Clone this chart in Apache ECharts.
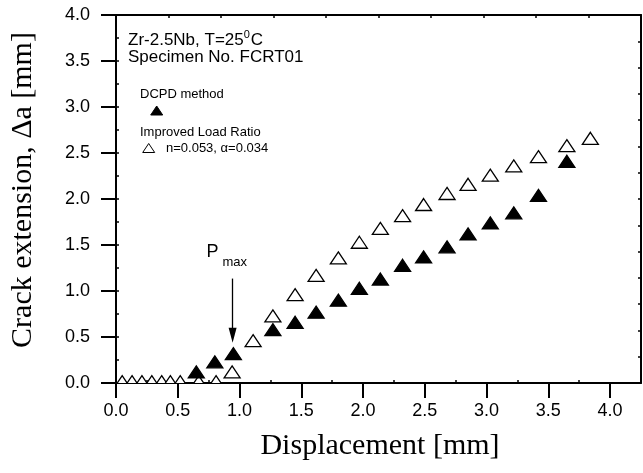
<!DOCTYPE html>
<html>
<head>
<meta charset="utf-8">
<script src="https://cdn.jsdelivr.net/npm/echarts@6/dist/echarts.min.js"></script>
<style>html,body{margin:0;padding:0;background:#fff}#c{width:643px;height:473px}</style>
</head>
<body>
<div id="c"></div>
<script>
// ---- data ----
const xTickLabels = [0, 0.5, 1.0, 1.5, 2.0, 2.5, 3.0, 3.5, 4.0];
const xMinorTicks = [0.25, 0.75, 1.25, 1.75, 2.25, 2.75, 3.25, 3.75, 4.25];
const yTickLabels = [0, 0.5, 1.0, 1.5, 2.0, 2.5, 3.0, 3.5, 4.0];

const dcpdX = [0.65, 0.80, 0.95, 1.27, 1.45, 1.62, 1.80, 1.97, 2.14, 2.32, 2.49, 2.68, 2.85, 3.03, 3.22, 3.42, 3.65];
const dcpdY = [0.12, 0.23, 0.32, 0.58, 0.66, 0.77, 0.90, 1.03, 1.13, 1.28, 1.37, 1.48, 1.62, 1.74, 1.85, 2.04, 2.41];

const ratioX = [0.05, 0.13, 0.21, 0.29, 0.37, 0.44, 0.52, 0.67, 0.81, 0.94, 1.11, 1.27, 1.45, 1.62, 1.80, 1.97, 2.14, 2.32, 2.49, 2.68, 2.85, 3.03, 3.22, 3.42, 3.65, 3.84];
const ratioY = [0.015, 0.015, 0.015, 0.015, 0.015, 0.015, 0.015, 0.015, 0.015, 0.12, 0.46, 0.73, 0.96, 1.17, 1.36, 1.53, 1.68, 1.82, 1.94, 2.06, 2.16, 2.26, 2.36, 2.46, 2.58, 2.66];

const pmaxArrow = [[0.944, 1.135], [0.944, 0.52]];

// ---- chart ----
const SANS = 'Liberation Sans, Arial, sans-serif';
const SERIF = 'Liberation Serif, Times New Roman, serif';
const chart = echarts.init(document.getElementById('c'), null, {renderer: 'canvas'});

function triRenderer(fill) {
  return function (params, api) {
    const p = api.coord([api.value(0), api.value(1)]);
    const w = 8, h = 6;
    return {
      type: 'polygon',
      shape: {points: [[p[0], p[1] - h], [p[0] + w, p[1] + h], [p[0] - w, p[1] + h]]},
      style: {fill: fill, stroke: '#000', lineWidth: 1.3}
    };
  };
}

const gridRect = {left: 116, right: 2, top: 15, bottom: 90};
const lineStyle = {color: '#000', width: 2};

const option = {
  backgroundColor: '#fff',
  animation: false,
  grid: [
    Object.assign({outerBoundsMode: 'none', containLabel: false}, gridRect),
    Object.assign({outerBoundsMode: 'none', containLabel: false}, gridRect)
  ],
  xAxis: [
    {
      type: 'value', gridIndex: 0, position: 'bottom', min: 0, max: 4.25,
      axisLine: {show: true, onZero: false, lineStyle: lineStyle},
      axisTick: {show: true, inside: false, length: 15, customValues: xTickLabels, lineStyle: {color: '#000', width: 2}},
      axisLabel: {show: true, customValues: xTickLabels, margin: 19, color: '#000', fontSize: 18, fontFamily: SANS,
        formatter: v => v.toFixed(1)},
      splitLine: {show: false}
    },
    {
      type: 'value', gridIndex: 0, position: 'top', min: 0, max: 10, interval: 1,
      axisLine: {show: true, onZero: false, lineStyle: lineStyle},
      axisTick: {show: true, inside: true, length: 3, lineStyle: {color: '#000', width: 1.5}},
      axisLabel: {show: false}, splitLine: {show: false}
    },
    {
      type: 'value', gridIndex: 1, position: 'bottom', min: 0, max: 4.25,
      axisLine: {show: false, onZero: false},
      axisTick: {show: true, inside: true, length: 3, customValues: xMinorTicks, lineStyle: {color: '#000', width: 1.5}},
      axisLabel: {show: false}, splitLine: {show: false}
    }
  ],
  yAxis: [
    {
      type: 'value', gridIndex: 0, position: 'left', min: 0, max: 4, interval: 0.5,
      axisLine: {show: true, onZero: false, lineStyle: lineStyle},
      axisTick: {show: true, inside: false, length: 15, lineStyle: {color: '#000', width: 2}},
      axisLabel: {show: true, margin: 26, color: '#000', fontSize: 18, fontFamily: SANS,
        formatter: v => v.toFixed(1)},
      splitLine: {show: false}
    },
    {
      type: 'value', gridIndex: 0, position: 'right', min: 0, max: 14, interval: 1,
      axisLine: {show: true, onZero: false, lineStyle: lineStyle},
      axisTick: {show: true, inside: true, length: 3, lineStyle: {color: '#000', width: 1.5}},
      axisLabel: {show: false}, splitLine: {show: false}
    },
    {
      type: 'value', gridIndex: 1, position: 'left', min: 0, max: 4, interval: 0.25,
      axisLine: {show: false, onZero: false},
      axisTick: {show: true, inside: true, length: 3, lineStyle: {color: '#000', width: 1.5}},
      axisLabel: {show: false}, splitLine: {show: false}
    }
  ],
  series: [
    {
      name: 'DCPD method', type: 'custom', xAxisIndex: 0, yAxisIndex: 0, clip: true,
      renderItem: triRenderer('#000'),
      data: dcpdX.map((x, i) => [x, dcpdY[i]]), z: 5
    },
    {
      name: 'Improved Load Ratio', type: 'custom', xAxisIndex: 0, yAxisIndex: 0, clip: true,
      renderItem: triRenderer('#fff'),
      data: ratioX.map((x, i) => [x, ratioY[i]]), z: 4
    },
    {
      name: 'arrow', type: 'scatter', xAxisIndex: 0, yAxisIndex: 0, data: [], silent: true,
      markLine: {
        silent: true, animation: false,
        symbol: ['none', 'triangle'], symbolSize: [8, 15],
        label: {show: false},
        lineStyle: {color: '#000', width: 1.3, type: 'solid'},
        data: [[{coord: pmaxArrow[0]}, {coord: pmaxArrow[1]}]]
      }
    }
  ],
  graphic: [
    {type: 'text', x: 128, y: 39, z: 10, style: {
      text: '{a|Zr-2.5Nb, T=25}{s|0}{a|C}', align: 'left', verticalAlign: 'middle', fill: '#000',
      rich: {a: {fontSize: 17, fontFamily: SANS, lineHeight: 20, verticalAlign: 'bottom'},
             s: {fontSize: 11, fontFamily: SANS, lineHeight: 20, verticalAlign: 'top', padding: [0, 1, 0, 0]}}
    }},
    {type: 'text', x: 128, y: 57.5, z: 10, style: {text: 'Specimen No. FCRT01', fontSize: 17, fontFamily: SANS, fill: '#000', align: 'left', verticalAlign: 'middle'}},
    {type: 'text', x: 140, y: 94, z: 10, style: {text: 'DCPD method', fontSize: 13, fontFamily: SANS, fill: '#000', align: 'left', verticalAlign: 'middle'}},
    {type: 'polygon', z: 10, shape: {points: [[156.7, 106], [162.7, 115], [150.7, 115]]}, style: {fill: '#000', stroke: '#000', lineWidth: 1}},
    {type: 'text', x: 140, y: 132.5, z: 10, style: {text: 'Improved Load Ratio', fontSize: 13, fontFamily: SANS, fill: '#000', align: 'left', verticalAlign: 'middle'}},
    {type: 'polygon', z: 10, shape: {points: [[148.7, 143.5], [154.7, 152.5], [142.7, 152.5]]}, style: {fill: '#fff', stroke: '#000', lineWidth: 1}},
    {type: 'text', x: 166, y: 148, z: 10, style: {text: 'n=0.053, α=0.034', fontSize: 13, fontFamily: SANS, fill: '#000', align: 'left', verticalAlign: 'middle'}},
    {type: 'text', x: 206.5, y: 252, z: 10, style: {text: 'P', fontSize: 18, fontFamily: SANS, fill: '#000', align: 'left', verticalAlign: 'middle'}},
    {type: 'text', x: 222.5, y: 262, z: 10, style: {text: 'max', fontSize: 13, fontFamily: SANS, fill: '#000', align: 'left', verticalAlign: 'middle'}},
    {type: 'text', x: 23, y: 190, rotation: Math.PI / 2, z: 10, style: {text: 'Crack extension, Δa [mm]', fontSize: 30, fontFamily: SERIF, fill: '#000', align: 'center', verticalAlign: 'middle'}},
    {type: 'text', x: 380, y: 446, z: 10, style: {text: 'Displacement [mm]', fontSize: 30, fontFamily: SERIF, fill: '#000', align: 'center', verticalAlign: 'middle'}}
  ]
};
chart.setOption(option);
</script>
</body>
</html>
